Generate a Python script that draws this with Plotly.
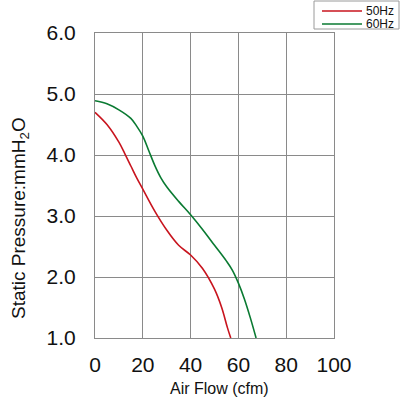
import plotly.graph_objects as go

flow_50 = [0, 5, 10, 12.5, 15, 17.5, 20, 25, 30, 35, 40, 45, 50, 53, 55.4, 56.8]
pres_50 = [4.70, 4.50, 4.21, 4.02, 3.82, 3.62, 3.44, 3.08, 2.77, 2.52, 2.36, 2.14, 1.80, 1.50, 1.17, 1.0]
flow_60 = [0, 5, 10, 15, 17.5, 20, 22.5, 25, 27.5, 30, 35, 40, 45, 50, 55, 57.5, 60, 62.5, 65, 67.4]
pres_60 = [4.89, 4.84, 4.74, 4.60, 4.47, 4.31, 4.07, 3.83, 3.63, 3.48, 3.24, 3.02, 2.78, 2.52, 2.26, 2.11, 1.90, 1.64, 1.33, 1.0]
x_ticks = [0, 20, 40, 60, 80, 100]
y_ticks = [1, 2, 3, 4, 5, 6]
y_tick_text = ["1.0", "2.0", "3.0", "4.0", "5.0", "6.0"]
series_names = ["50Hz", "60Hz"]
colors = ["#c8141e", "#0a7a32"]

FONT = "Liberation Sans, Arial, sans-serif"
L, R, T, B = 95, 334, 33, 338
W, H = 400, 398

def px(x):
    return (x - L) / (R - L)

def py(y):
    return (B - y) / (B - T)

fig = go.Figure()
fig.add_trace(go.Scatter(x=flow_50, y=pres_50, mode="lines", name=series_names[0],
                         line=dict(color=colors[0], width=1.6, shape="spline", smoothing=1.0)))
fig.add_trace(go.Scatter(x=flow_60, y=pres_60, mode="lines", name=series_names[1],
                         line=dict(color=colors[1], width=1.6, shape="spline", smoothing=1.0)))

axis_common = dict(showgrid=True, gridcolor="#8a8a8a", gridwidth=1, zeroline=False,
                   showline=True, linecolor="#8a8a8a", linewidth=1, mirror=True,
                   ticks="", tickfont=dict(family=FONT, size=21, color="#111"))
fig.update_xaxes(range=[0, 100], tickvals=x_ticks, ticklabelstandoff=8, **axis_common)
fig.update_yaxes(range=[1, 6], tickvals=y_ticks, ticktext=y_tick_text, ticklabelstandoff=14, **axis_common)

shapes = [
    dict(type="rect", xref="paper", yref="paper", x0=px(314), x1=px(399), y0=py(29), y1=py(1),
         line=dict(color="#9a9a9a", width=1), fillcolor="white"),
    dict(type="line", xref="paper", yref="paper", x0=px(322), x1=px(362), y0=py(11), y1=py(11),
         line=dict(color=colors[0], width=1.6)),
    dict(type="line", xref="paper", yref="paper", x0=px(322), x1=px(362), y0=py(24), y1=py(24),
         line=dict(color=colors[1], width=1.6)),
]
annotations = [
    dict(text=series_names[0], xref="paper", yref="paper", x=px(364), y=py(11), xanchor="left",
         yanchor="middle", showarrow=False, font=dict(family=FONT, size=12, color="#111")),
    dict(text=series_names[1], xref="paper", yref="paper", x=px(364), y=py(24), xanchor="left",
         yanchor="middle", showarrow=False, font=dict(family=FONT, size=12, color="#111")),
    dict(text="Air Flow (cfm)", xref="paper", yref="paper", x=px(219), y=py(388), xanchor="center",
         yanchor="middle", showarrow=False, font=dict(family=FONT, size=16, color="#111")),
    dict(text="Static Pressure:mmH<sub>2</sub>O", xref="paper", yref="paper", x=px(20), y=py(218),
         xanchor="center", yanchor="middle", textangle=-90, showarrow=False,
         font=dict(family=FONT, size=19, color="#111")),
]

fig.update_layout(width=W, height=H, margin=dict(l=L, r=W - R, t=T, b=H - B),
                  paper_bgcolor="white", plot_bgcolor="white", showlegend=False,
                  shapes=shapes, annotations=annotations)
fig.write_html("out.html")
